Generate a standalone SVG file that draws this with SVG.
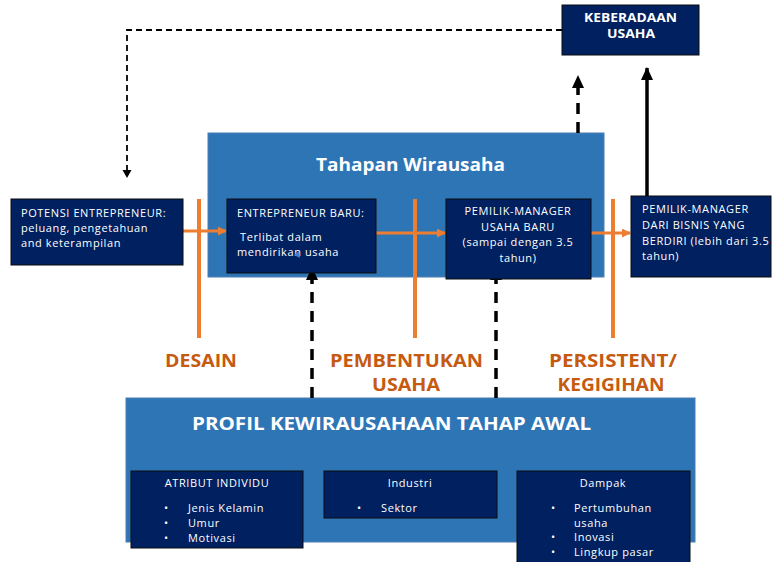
<svg xmlns="http://www.w3.org/2000/svg" width="772" height="562" viewBox="0 0 772 562">
  <defs>
    <style>
      .navy { fill: #002060; stroke: #0d0d0d; stroke-width: 1; }
      .panel { fill: #2E75B6; stroke: #4a7fb5; stroke-width: 1; }
      .t { font-family: "Open Sans", "Noto Sans", sans-serif; font-size: 11px; letter-spacing: 0.6px; fill: #ffffff; }
      .c { text-anchor: middle; }
      .hb { font-family: "Open Sans", "Noto Sans", sans-serif; font-weight: bold; fill: #ffffff; text-anchor: middle; }
      .stage { font-family: "Open Sans", "Noto Sans", sans-serif; font-weight: bold; font-size: 18px; fill: #C55A11; text-anchor: middle; }
      .orange { stroke: #ED7D31; stroke-width: 4; fill: none; }
      .flow { stroke: #ED7D31; stroke-width: 3; fill: none; }
      .dash { stroke: #000; stroke-width: 3.5; fill: none; stroke-dasharray: 11 8; }
      .dashThin { stroke: #000; stroke-width: 1.8; fill: none; stroke-dasharray: 6 4; }
      .solid { stroke: #000; stroke-width: 3.5; fill: none; }
    </style>
    <marker id="arrOrange" markerWidth="9" markerHeight="9" refX="8" refY="4.5" orient="auto" markerUnits="userSpaceOnUse">
      <path d="M0,0 L9,4.5 L0,9 Z" fill="#ED7D31"/>
    </marker>
    <marker id="arrBlack" markerWidth="14" markerHeight="12" refX="12" refY="6" orient="auto" markerUnits="userSpaceOnUse">
      <path d="M0,0 L13,6 L0,12 Z" fill="#000"/>
    </marker>
  </defs>

  <rect width="772" height="562" fill="#ffffff"/>

  <!-- container panels -->
  <g id="tahapan-wirausaha">
    <rect class="panel" x="208" y="133" width="396" height="144"/>
    <text class="hb" x="410.5" y="171" font-size="18" textLength="189" lengthAdjust="spacingAndGlyphs">Tahapan Wirausaha</text>
  </g>

  <g id="profil-kewirausahaan">
    <rect class="panel" x="126" y="398" width="569" height="144"/>
    <text class="hb" x="391.5" y="430" font-size="18" textLength="399" lengthAdjust="spacingAndGlyphs">PROFIL KEWIRAUSAHAAN TAHAP AWAL</text>
  </g>

  <!-- stage separators and stage names -->
  <g id="stages">
    <line class="orange" x1="199" y1="199" x2="199" y2="338"/>
    <line class="orange" x1="415" y1="199" x2="415" y2="338"/>
    <line class="orange" x1="613" y1="199" x2="613" y2="338"/>
    <text class="stage" x="201" y="367" textLength="72" lengthAdjust="spacingAndGlyphs">DESAIN</text>
    <text class="stage" x="406.5" y="367" textLength="153" lengthAdjust="spacingAndGlyphs">PEMBENTUKAN</text>
    <text class="stage" x="406" y="391" textLength="68" lengthAdjust="spacingAndGlyphs">USAHA</text>
    <text class="stage" x="613" y="367" textLength="128" lengthAdjust="spacingAndGlyphs">PERSISTENT/</text>
    <text class="stage" x="611" y="391" textLength="107" lengthAdjust="spacingAndGlyphs">KEGIGIHAN</text>
  </g>

  <!-- connectors -->
  <g id="connectors">
    <line class="flow" x1="183" y1="231" x2="226" y2="231" marker-end="url(#arrOrange)"/>
    <line class="flow" x1="376" y1="233" x2="445" y2="233" marker-end="url(#arrOrange)"/>
    <line class="flow" x1="591" y1="233" x2="630" y2="233" marker-end="url(#arrOrange)"/>

    <polyline class="dashThin" points="562,30 127,30 127,172"/>
    <path d="M122.5,170 L131.5,170 L127,178 Z" fill="#000"/>

    <line class="dash" x1="578" y1="133" x2="578" y2="76" marker-end="url(#arrBlack)"/>
    <line class="solid" x1="647" y1="197" x2="647" y2="68" marker-end="url(#arrBlack)"/>

    <line class="dash" x1="312" y1="398" x2="312" y2="268" marker-end="url(#arrBlack)"/>
    <line class="dash" x1="496" y1="398" x2="496" y2="268" marker-end="url(#arrBlack)"/>
  </g>

  <!-- nodes -->
  <g id="keberadaan-usaha">
    <rect class="navy" x="562" y="5" width="137" height="50"/>
    <text class="hb" x="630.5" y="22" font-size="12.5" textLength="93" lengthAdjust="spacingAndGlyphs">KEBERADAAN</text>
    <text class="hb" x="631" y="38" font-size="12.5" textLength="48" lengthAdjust="spacingAndGlyphs">USAHA</text>
  </g>

  <g id="potensi-entrepreneur">
    <rect class="navy" x="11" y="199" width="172" height="66"/>
    <text class="t" x="21" y="217">POTENSI ENTREPRENEUR:</text>
    <text class="t" x="21" y="232">peluang, pengetahuan</text>
    <text class="t" x="21" y="247">and keterampilan</text>
  </g>

  <g id="entrepreneur-baru">
    <rect class="navy" x="227" y="199" width="149" height="74"/>
    <text class="t" x="237" y="217">ENTREPRENEUR BARU:</text>
    <text class="t" x="240" y="241">Terlibat dalam</text>
    <text class="t" x="237" y="256">mendirikan usaha</text>
    <path d="M294,255 L299,251 L300,258 Z" fill="#3d7fd1"/>
  </g>

  <g id="pemilik-manager-baru">
    <rect class="navy" x="446" y="199" width="145" height="80"/>
    <text class="t c" x="518" y="215">PEMILIK-MANAGER</text>
    <text class="t c" x="518" y="231">USAHA BARU</text>
    <text class="t c" x="518" y="246">(sampai dengan 3.5</text>
    <text class="t c" x="518" y="262">tahun)</text>
  </g>

  <g id="pemilik-manager-berdiri">
    <rect class="navy" x="631" y="196" width="140" height="81"/>
    <text class="t" x="642" y="213">PEMILIK-MANAGER</text>
    <text class="t" x="642" y="229">DARI BISNIS YANG</text>
    <text class="t" x="642" y="245">BERDIRI (lebih dari 3.5</text>
    <text class="t" x="642" y="260">tahun)</text>
  </g>

  <g id="atribut-individu">
    <rect class="navy" x="131" y="471" width="172" height="77"/>
    <text class="t c" x="217" y="487">ATRIBUT INDIVIDU</text>
    <text class="t" x="164" y="512">•</text>
    <text class="t" x="188" y="512">Jenis Kelamin</text>
    <text class="t" x="164" y="527">•</text>
    <text class="t" x="188" y="527">Umur</text>
    <text class="t" x="164" y="542">•</text>
    <text class="t" x="188" y="542">Motivasi</text>
  </g>

  <g id="industri">
    <rect class="navy" x="324" y="471" width="173" height="47"/>
    <text class="t c" x="410" y="487">Industri</text>
    <text class="t" x="357" y="512">•</text>
    <text class="t" x="381" y="512">Sektor</text>
  </g>

  <g id="dampak">
    <rect class="navy" x="517" y="471" width="173" height="96"/>
    <text class="t c" x="603" y="487">Dampak</text>
    <text class="t" x="551" y="512">•</text>
    <text class="t" x="574" y="512">Pertumbuhan</text>
    <text class="t" x="574" y="527">usaha</text>
    <text class="t" x="551" y="541">•</text>
    <text class="t" x="574" y="541">Inovasi</text>
    <text class="t" x="551" y="556">•</text>
    <text class="t" x="574" y="556">Lingkup pasar</text>
  </g>
</svg>
